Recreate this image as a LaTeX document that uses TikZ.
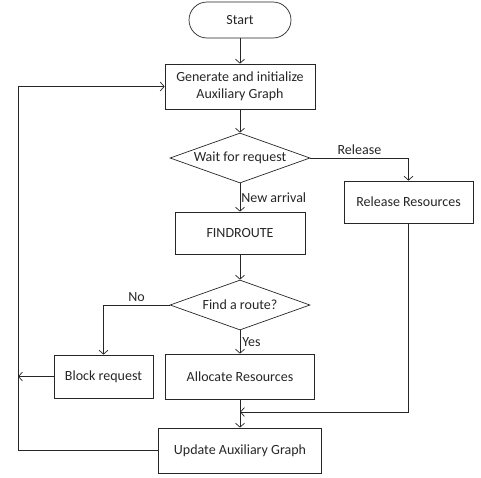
\documentclass[tikz,border=0pt]{standalone}
\usepackage{fontspec}
\setmainfont{Carlito}
\usetikzlibrary{arrows.meta,shapes.geometric}
\tikzset{>={Straight Barb[length=4pt,width=9pt]},font=\fontsize{14}{17}\selectfont,
  every path/.style={line width=0.7pt},
  term/.style={draw,rounded corners=18pt,minimum width=102pt,minimum height=36pt},
  block/.style={draw,rectangle,align=center,inner sep=2pt},
  decision/.style={draw,diamond,aspect=2.8,inner sep=0pt,minimum width=140pt,minimum height=50pt}}

\begin{document}
\begin{tikzpicture}[x=1pt,y=-1pt,color=black!85]
\useasboundingbox (0,0) rectangle (481,477);
\node[term] (start) at (240,20) {Start};
\node[block,minimum width=150pt,minimum height=45pt] (gen) at (240,86.5) {Generate and initialize\\Auxiliary Graph};
\node[decision] (wait) at (240,158) {Wait for request};
\node[block,minimum width=129pt,minimum height=42pt] (rel) at (408.5,202) {Release Resources};
\node[block,minimum width=130pt,minimum height=42pt] (find) at (240,233) {FINDROUTE};
\node[decision] (route) at (240,305) {Find a route?};
\node[block,minimum width=99pt,minimum height=43pt] (blk) at (103.5,376.5) {Block request};
\node[block,minimum width=149pt,minimum height=45pt] (alloc) at (240,376.5) {Allocate Resources};
\node[block,minimum width=163pt,minimum height=45pt] (upd) at (240,450.5) {Update Auxiliary Graph};
\coordinate (lp) at (18,0);
\coordinate (merge) at (240,412);
\path[->] (start) edge (gen);
\path[->] (gen) edge (wait);
\draw[->] (wait.east) -| node[pos=0.25,above] {Release} (rel.north);
\draw[->] (wait) -- node[right,inner sep=1pt] {New arrival} (find);
\path[->] (find) edge (route);
\draw[->] (route.west) -| node[pos=0.25,above] {No} (blk.north);
\draw[->] (route) -- node[right,inner sep=2pt] {Yes} (alloc);
\path[->] (alloc) edge (upd);
\draw[->] (rel.south) |- (merge);
\draw[->] (blk.west) -- (blk.west -| lp);
\draw[->] (upd.west) -- (upd.west -| lp) |- (gen.west);
\end{tikzpicture}
\end{document}
